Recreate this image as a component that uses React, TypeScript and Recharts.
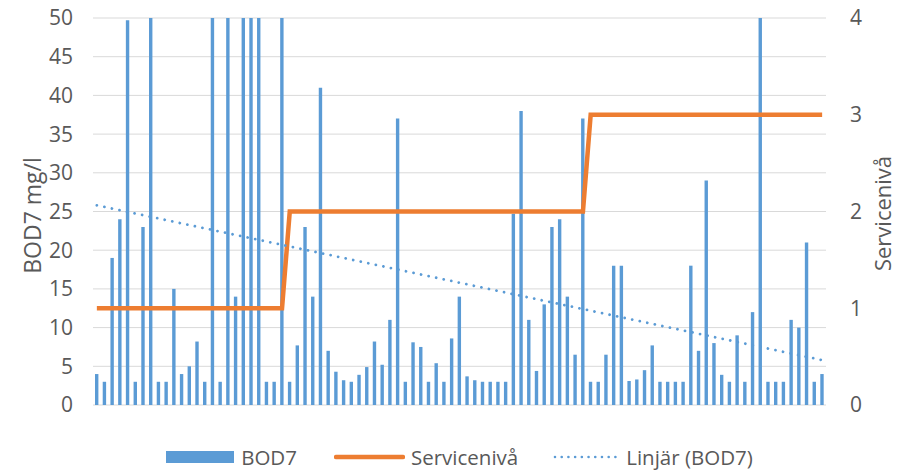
import React from "react";
import { ComposedChart, Bar, Line, XAxis, YAxis, CartesianGrid } from "recharts";

// BOD7 mg/l per sample (95 samples); tall bars are clipped at the axis max of 50
const bod7: number[] = [
  4, 3, 19, 24, 49.7, 3, 23, 50, 3, 3,
  15, 4, 5, 8.2, 3, 50, 3, 50, 14, 50,
  50, 50, 3, 3, 50, 3, 7.7, 23, 14, 41,
  7, 4.3, 3.2, 3, 3.9, 4.9, 8.2, 5.2, 11, 37,
  3, 8.1, 7.5, 3, 5.4, 3, 8.6, 14, 3.7, 3.2,
  3, 3, 3, 3, 24.7, 38, 11, 4.4, 13, 23,
  24, 14, 6.5, 37, 3, 3, 6.5, 18, 18, 3.1,
  3.3, 4.5, 7.7, 3, 3, 3, 3, 18, 7, 29,
  8, 3.9, 3, 9, 3, 12, 50, 3, 3, 3,
  11, 10, 21, 3, 4,
];

// Servicenivå per sample (right axis)
const serviceLevel: number[] = [
  1, 1, 1, 1, 1, 1, 1, 1, 1, 1,
  1, 1, 1, 1, 1, 1, 1, 1, 1, 1,
  1, 1, 1, 1, 1, 2, 2, 2, 2, 2,
  2, 2, 2, 2, 2, 2, 2, 2, 2, 2,
  2, 2, 2, 2, 2, 2, 2, 2, 2, 2,
  2, 2, 2, 2, 2, 2, 2, 2, 2, 2,
  2, 2, 2, 2, 3, 3, 3, 3, 3, 3,
  3, 3, 3, 3, 3, 3, 3, 3, 3, 3,
  3, 3, 3, 3, 3, 3, 3, 3, 3, 3,
  3, 3, 3, 3, 3,
];

// Linear trend (Linjär (BOD7)) value at first and last sample
const trendEnds: number[] = [25.8, 5.8];

const leftTicks: number[] = [0, 5, 10, 15, 20, 25, 30, 35, 40, 45, 50];
const rightTicks: number[] = [0, 1, 2, 3, 4];

const data = bod7.map((v, i) => ({
  idx: i + 1,
  bod7: v,
  service: serviceLevel[i],
  trend: i === 0 ? trendEnds[0] : i === bod7.length - 1 ? trendEnds[1] : null,
}));

const FONT = "'Open Sans', sans-serif";
const GREY = "#595959";
const BLUE = "#5B9BD5";
const ORANGE = "#ED7D31";

const LeftTitle = (props: any) => {
  const vb = props.viewBox || {};
  const cx = 32;
  const cy = vb.y + vb.height / 2 + 4;
  return (
    <text
      x={cx}
      y={cy}
      transform={`rotate(-90 ${cx} ${cy})`}
      textAnchor="middle"
      dominantBaseline="central"
      fill={GREY}
      fontSize={23}
      fontFamily={FONT}
    >
      BOD7 mg/l
    </text>
  );
};

const RightTitle = (props: any) => {
  const vb = props.viewBox || {};
  const cx = 882;
  const cy = vb.y + vb.height / 2 + 2;
  return (
    <text
      x={cx}
      y={cy}
      transform={`rotate(-90 ${cx} ${cy})`}
      textAnchor="middle"
      dominantBaseline="central"
      fill={GREY}
      fontSize={22}
      fontFamily={FONT}
    >
      Servicenivå
    </text>
  );
};

const legendText: React.CSSProperties = {
  fontFamily: FONT,
  fontSize: 20.5,
  color: GREY,
  lineHeight: "24px",
};

export default function App() {
  return (
    <div style={{ position: "absolute", left: 0, top: 0, width: 897, height: 471, background: "#fff" }}>
      <ComposedChart
        width={897}
        height={471}
        data={data}
        margin={{ top: 18, right: 0, bottom: 66, left: 0 }}
        barCategoryGap={0}
      >
        <CartesianGrid yAxisId="left" vertical={false} stroke="#D9D9D9" strokeWidth={1} />
        <XAxis dataKey="idx" hide />
        <YAxis
          yAxisId="left"
          width={93}
          domain={[0, 50]}
          ticks={leftTicks}
          allowDataOverflow
          axisLine={false}
          tickLine={false}
          tickSize={0}
          tickMargin={20}
          tick={{ fill: GREY, fontSize: 21, fontFamily: FONT }}
          label={<LeftTitle />}
        />
        <YAxis
          yAxisId="right"
          orientation="right"
          width={71}
          domain={[0, 4]}
          ticks={rightTicks}
          axisLine={false}
          tickLine={false}
          tickSize={0}
          tickMargin={24}
          tick={{ fill: GREY, fontSize: 21, fontFamily: FONT }}
          label={<RightTitle />}
        />
        <Bar yAxisId="left" dataKey="bod7" fill={BLUE} barSize={3.4} isAnimationActive={false} />
        <Line
          yAxisId="right"
          dataKey="service"
          type="linear"
          stroke={ORANGE}
          strokeWidth={4.5}
          dot={false}
          activeDot={false}
          isAnimationActive={false}
        />
        <Line
          yAxisId="left"
          dataKey="trend"
          type="linear"
          stroke={BLUE}
          strokeWidth={2.8}
          strokeDasharray="0.01 7.7"
          strokeLinecap="round"
          connectNulls
          dot={false}
          activeDot={false}
          isAnimationActive={false}
        />
      </ComposedChart>
      <div
        style={{
          position: "absolute",
          left: 93,
          width: 733,
          top: 445,
          height: 24,
          display: "flex",
          justifyContent: "center",
          alignItems: "center",
        }}
      >
        <div style={{ display: "flex", alignItems: "center" }}>
          <div style={{ width: 68, height: 12, background: BLUE, marginRight: 7 }} />
          <span style={legendText}>BOD7</span>
        </div>
        <div style={{ display: "flex", alignItems: "center", marginLeft: 37 }}>
          <svg width={71} height={8} style={{ marginRight: 6 }}>
            <line x1={2} y1={4} x2={69} y2={4} stroke={ORANGE} strokeWidth={4.5} strokeLinecap="round" />
          </svg>
          <span style={legendText}>Servicenivå</span>
        </div>
        <div style={{ display: "flex", alignItems: "center", marginLeft: 35 }}>
          <svg width={65} height={6} style={{ marginRight: 8 }}>
            <line
              x1={2}
              y1={3}
              x2={63}
              y2={3}
              stroke={BLUE}
              strokeWidth={2.6}
              strokeDasharray="0.01 6.7"
              strokeLinecap="round"
            />
          </svg>
          <span style={legendText}>Linjär (BOD7)</span>
        </div>
      </div>
    </div>
  );
}
